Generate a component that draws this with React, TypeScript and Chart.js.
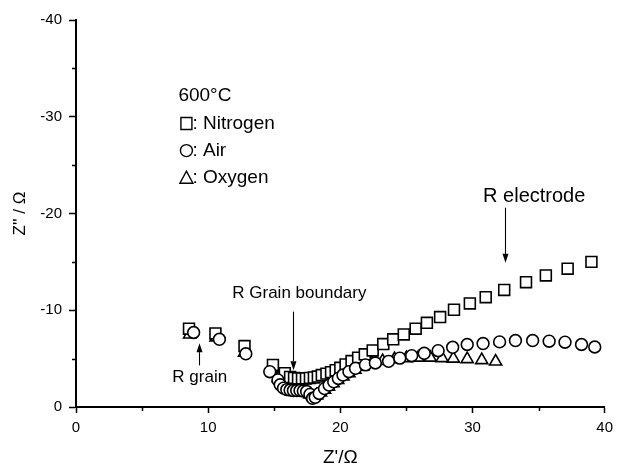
import { useEffect, useRef } from 'react';
import { Chart, registerables } from 'chart.js';

Chart.register(...registerables);

// Z' (ohm) and Z'' (ohm)
const nitrogenX = [8.55, 10.55, 12.75, 14.9, 15.8, 16.2, 16.5, 16.8, 17.1, 17.4, 17.7, 18.0, 18.3, 18.6, 18.95, 19.3, 19.65, 20.0, 20.4, 20.85, 21.35, 21.85, 22.45, 23.25, 24.0, 24.8, 25.7, 26.55, 27.55, 28.6, 29.8, 31.0, 32.4, 34.05, 35.55, 37.2, 39.0];
const nitrogenY = [-8.1, -7.6, -6.3, -4.35, -3.5, -3.1, -3.0, -2.95, -2.95, -2.95, -3.0, -3.05, -3.15, -3.3, -3.45, -3.6, -3.8, -4.05, -4.4, -4.75, -5.1, -5.45, -5.85, -6.5, -7.0, -7.5, -8.1, -8.7, -9.3, -10.05, -10.7, -11.35, -12.1, -12.9, -13.6, -14.3, -15.0];

const airX = [8.9, 10.85, 12.85, 14.66, 15.28, 15.45, 15.7, 15.95, 16.2, 16.45, 16.7, 16.95, 17.2, 17.45, 17.7, 17.9, 18.1, 18.4, 18.8, 19.15, 19.5, 19.85, 20.2, 20.65, 21.15, 21.9, 22.65, 23.65, 24.5, 25.4, 26.35, 27.4, 28.5, 29.6, 30.8, 32.05, 33.25, 34.55, 35.8, 37.0, 38.25, 39.25];
const airY = [-7.7, -7.0, -5.5, -3.65, -2.8, -2.3, -1.95, -1.8, -1.75, -1.7, -1.7, -1.7, -1.65, -1.6, -1.3, -0.9, -1.0, -1.4, -1.9, -2.27, -2.6, -2.95, -3.3, -3.65, -4.0, -4.35, -4.55, -4.72, -5.05, -5.3, -5.55, -5.82, -6.17, -6.46, -6.56, -6.73, -6.87, -6.87, -6.8, -6.7, -6.46, -6.2];

const oxygenX = [8.6, 10.6, 12.75, 14.8, 15.3, 15.6, 15.9, 16.2, 16.5, 16.8, 17.1, 17.4, 17.7, 17.95, 18.2, 18.5, 18.8, 19.1, 19.45, 19.8, 20.2, 20.65, 21.1, 21.7, 22.4, 23.2, 24.1, 25.0, 25.9, 26.8, 27.7, 28.55, 29.6, 30.7, 31.75];
const oxygenY = [-7.5, -7.2, -5.6, -3.9, -3.0, -2.4, -2.0, -1.8, -1.7, -1.65, -1.6, -1.5, -1.3, -1.05, -1.2, -1.5, -1.8, -2.1, -2.45, -2.8, -3.15, -3.5, -3.85, -4.2, -4.5, -4.75, -4.95, -5.05, -5.1, -5.1, -5.05, -5.0, -4.95, -4.85, -4.7];

const xMinorTicks = [5, 15, 25, 35];
const yMinorTicks = [-5, -15, -25, -35];

const legendTitle = '600°C';
const legendLabels = ['Nitrogen', 'Air', 'Oxygen'];
const legendStyles = ['rect', 'circle', 'triangle'];

const FONT = "'Liberation Sans', Arial, sans-serif";

function toPoints(xs: number[], ys: number[]) {
  return xs.map((v, i) => ({ x: v, y: ys[i] }));
}

function arrow(ctx: CanvasRenderingContext2D, x: number, y1: number, y2: number) {
  const dir = y2 > y1 ? 1 : -1;
  const head = 9;
  ctx.beginPath();
  ctx.moveTo(x, y1);
  ctx.lineTo(x, y2 - dir * head);
  ctx.stroke();
  ctx.beginPath();
  ctx.moveTo(x, y2);
  ctx.lineTo(x - 3, y2 - dir * head);
  ctx.lineTo(x + 3, y2 - dir * head);
  ctx.closePath();
  ctx.fill();
}

const annotPlugin = {
  id: 'annot',
  afterDraw(chart: any) {
    const { ctx } = chart;
    const xs = chart.scales.x;
    const ys = chart.scales.y;
    const px = (v: number) => xs.getPixelForValue(v);
    const py = (v: number) => ys.getPixelForValue(v);
    ctx.save();
    ctx.strokeStyle = '#000';
    ctx.fillStyle = '#000';
    ctx.lineWidth = 1.5;
    // minor ticks
    ctx.beginPath();
    for (const v of xMinorTicks) {
      const p = Math.round(px(v)) + 0.5;
      ctx.moveTo(p, xs.top);
      ctx.lineTo(p, xs.top + 4);
    }
    for (const v of yMinorTicks) {
      const p = Math.round(py(v)) + 0.5;
      ctx.moveTo(ys.right - 4, p);
      ctx.lineTo(ys.right, p);
    }
    ctx.stroke();

    // annotations
    ctx.lineWidth = 1.1;
    ctx.textBaseline = 'middle';
    ctx.font = `20px ${FONT}`;
    ctx.textAlign = 'left';
    ctx.fillText('R electrode', px(30.8), py(-21.8));
    arrow(ctx, Math.round(px(32.43)) + 0.5, py(-20.6), py(-14.9));

    ctx.font = `17px ${FONT}`;
    ctx.textAlign = 'center';
    ctx.fillText('R Grain boundary', px(16.9), py(-11.8));
    arrow(ctx, Math.round(px(16.44)) + 0.5, py(-9.85), py(-3.8));

    ctx.fillText('R grain', px(9.36), py(-3.1));
    arrow(ctx, Math.round(px(9.34)) + 0.5, py(-4.3), py(-6.6));

    // legend
    const lx = px(7.9);
    ctx.textAlign = 'left';
    ctx.font = `19px ${FONT}`;
    ctx.fillText(legendTitle, lx - 2, py(-32.2));
    const rows = [-29.3, -26.5, -23.7];
    ctx.lineWidth = 1.4;
    rows.forEach((rv, i) => {
      const cy = py(rv);
      const cx = lx + 6;
      ctx.beginPath();
      if (legendStyles[i] === 'rect') {
        ctx.rect(cx - 5.5, cy - 6, 11, 12);
      } else if (legendStyles[i] === 'circle') {
        ctx.arc(cx, cy, 6, 0, Math.PI * 2);
      } else {
        ctx.moveTo(cx, cy - 6.5);
        ctx.lineTo(cx + 6.5, cy + 5.5);
        ctx.lineTo(cx - 6.5, cy + 5.5);
        ctx.closePath();
      }
      ctx.stroke();
      ctx.fillText(': ' + legendLabels[i], lx + 12, cy);
    });
    ctx.restore();
  },
};

export default function App() {
  const ref = useRef<HTMLCanvasElement>(null);
  useEffect(() => {
    if (!ref.current) return;
    const pointCommon = {
      showLine: false,
      backgroundColor: '#fff',
      borderColor: '#000',
      borderWidth: 1.6,
      pointBackgroundColor: '#fff',
      pointBorderColor: '#000',
      pointBorderWidth: 1.6,
    };
    const chart = new Chart(ref.current, {
      type: 'scatter',
      data: {
        datasets: [
          { ...pointCommon, label: 'Air', data: toPoints(airX, airY), pointStyle: 'circle', pointRadius: 5.9, order: 1 },
          { ...pointCommon, label: 'Nitrogen', data: toPoints(nitrogenX, nitrogenY), pointStyle: 'rect', pointRadius: 7.7, order: 2 },
          { ...pointCommon, label: 'Oxygen', data: toPoints(oxygenX, oxygenY), pointStyle: 'triangle', pointRadius: 7, order: 3 },
        ],
      },
      options: {
        responsive: false,
        animation: false,
        events: [],
        layout: { padding: { top: 20, right: 9, left: 0, bottom: 0 } },
        plugins: { legend: { display: false }, tooltip: { enabled: false } },
        scales: {
          x: {
            type: 'linear',
            min: 0,
            max: 40,
            afterFit: (s: any) => { s.height = 62; },
            ticks: { stepSize: 10, color: '#000', padding: 6, font: { family: FONT, size: 15 } },
            grid: { display: true, drawOnChartArea: false, drawTicks: true, tickLength: 6, tickColor: '#000', tickWidth: 1.5 },
            border: { display: true, color: '#000', width: 2 },
            title: { display: true, text: "Z'/Ω", color: '#000', padding: { top: 0, bottom: 0 }, font: { family: FONT, size: 19 } },
          },
          y: {
            type: 'linear',
            min: -40,
            max: 0,
            reverse: true,
            afterFit: (s: any) => { s.width = 76; },
            ticks: { stepSize: 10, color: '#000', padding: 7, font: { family: FONT, size: 15 } },
            grid: { display: true, drawOnChartArea: false, drawTicks: true, tickLength: 7, tickColor: '#000', tickWidth: 1.5 },
            border: { display: true, color: '#000', width: 2 },
            title: { display: true, text: "Z'' / Ω", color: '#000', padding: { top: 10, bottom: 0 }, font: { family: FONT, size: 17 } },
          },
        },
      },
      plugins: [annotPlugin],
    });
    return () => chart.destroy();
  }, []);
  return (
    <div style={{ position: 'fixed', left: 0, top: 0, width: 619, height: 469, background: '#fff' }}>
      <canvas ref={ref} width={619} height={469} style={{ display: 'block' }} />
    </div>
  );
}
